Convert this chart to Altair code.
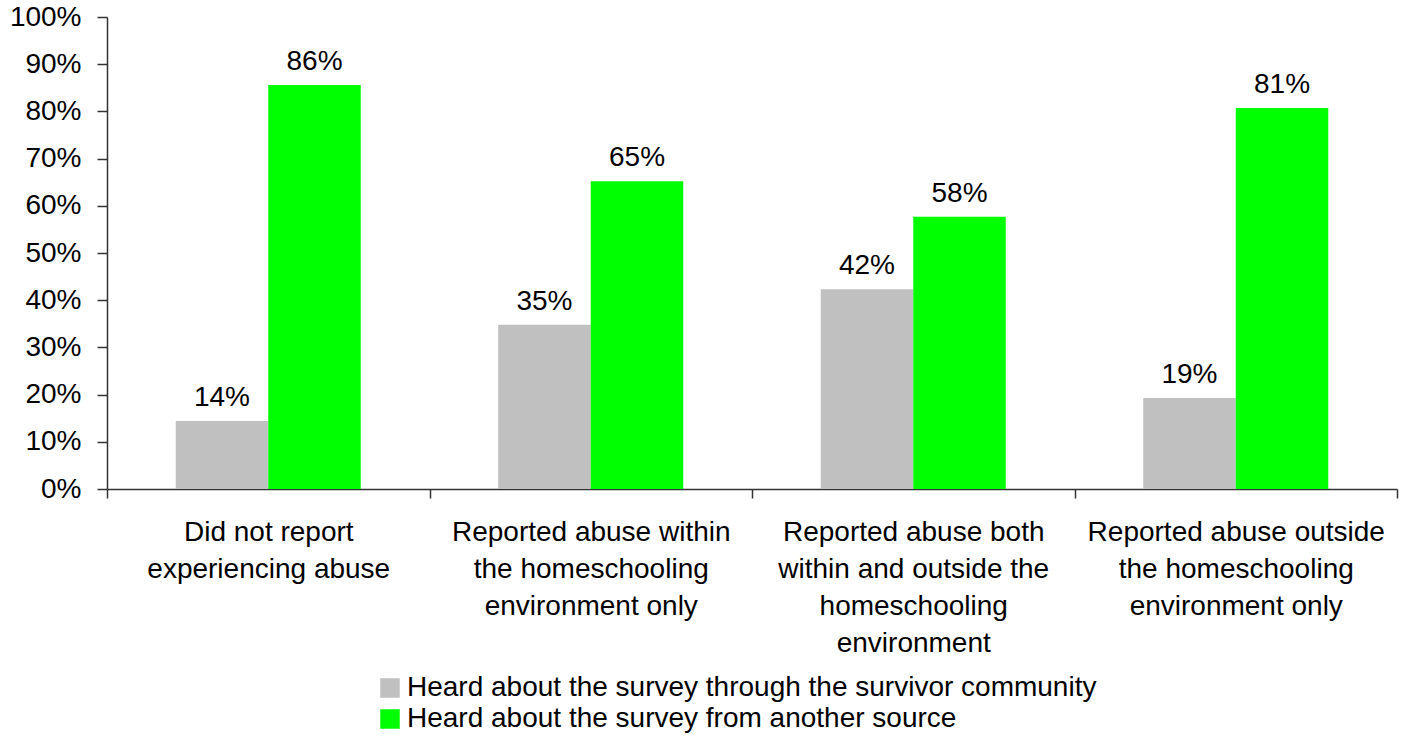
import altair as alt
import pandas as pd

categories = [
    "Did not report\nexperiencing abuse",
    "Reported abuse within\nthe homeschooling\nenvironment only",
    "Reported abuse both\nwithin and outside the\nhomeschooling\nenvironment",
    "Reported abuse outside\nthe homeschooling\nenvironment only",
]
series = [
    "Heard about the survey through the survivor community",
    "Heard about the survey from another source",
]
survivor_values = [0.144, 0.348, 0.423, 0.193]
other_values = [0.856, 0.652, 0.577, 0.807]
y_ticks = [0, 0.1, 0.2, 0.3, 0.4, 0.5, 0.6, 0.7, 0.8, 0.9, 1.0]
colors = ["#C0C0C0", "#00FF00"]

rows = []
for c, a, b in zip(categories, survivor_values, other_values):
    rows.append({"category": c, "series": series[0], "value": a})
    rows.append({"category": c, "series": series[1], "value": b})
df = pd.DataFrame(rows)

FONT = "Liberation Sans"

x_enc = alt.X(
    "category:N",
    sort=categories,
    scale=alt.Scale(paddingInner=0, paddingOuter=0),
    axis=alt.Axis(
        title=None,
        labelAngle=0,
        tickBand="extent",
        labelExpr="datum.value == null ? '' : split(datum.value, '\\n')",
        labelFontSize=28,
        labelFont=FONT,
        labelColor="black",
        labelBaseline="top",
        labelLineHeight=37,
        labelPadding=20,
        labelLimit=400,
        tickSize=9,
        domainColor="#333333",
        tickColor="#333333",
        domainWidth=1.5,
        tickWidth=1.5,
    ),
)
xoff = alt.XOffset(
    "series:N", sort=series, scale=alt.Scale(paddingInner=0, paddingOuter=0.743)
)
y_enc = alt.Y(
    "value:Q",
    scale=alt.Scale(domain=[0, 1], nice=False),
    axis=alt.Axis(
        title=None,
        values=y_ticks,
        format=".0%",
        labelFontSize=28,
        labelFont=FONT,
        labelColor="black",
        labelPadding=16,
        tickSize=10,
        grid=False,
        domainColor="#333333",
        tickColor="#333333",
        domainWidth=1.5,
        tickWidth=1.5,
    ),
)

bars = alt.Chart(df).mark_bar().encode(
    x=x_enc,
    xOffset=xoff,
    y=y_enc,
    color=alt.Color(
        "series:N",
        sort=series,
        scale=alt.Scale(domain=series, range=colors),
        legend=alt.Legend(
            title=None,
            orient="none",
            legendX=269,
            legendY=657,
            direction="vertical",
            symbolType="square",
            symbolSize=380,
            symbolStrokeWidth=0,
            labelFontSize=28,
            labelFont=FONT,
            labelColor="black",
            labelLimit=1000,
            labelOffset=3,
            rowPadding=3,
            padding=0,
        ),
    ),
)

labels = alt.Chart(df).mark_text(
    baseline="alphabetic", dy=-15, fontSize=28, font=FONT, color="black"
).encode(
    x=alt.X("category:N", sort=categories),
    xOffset=alt.XOffset("series:N", sort=series),
    y=alt.Y("value:Q"),
    text=alt.Text("value:Q", format=".0%"),
)

chart = (
    alt.layer(bars, labels)
    .properties(
        width=1290,
        height=472,
        autosize=alt.AutoSizeParams(type="none"),
        padding={"left": 107, "top": 17, "right": 16, "bottom": 249},
    )
    .configure_view(stroke=None)
)

chart.save("out.html", embed_options={"renderer": "svg", "actions": False})
